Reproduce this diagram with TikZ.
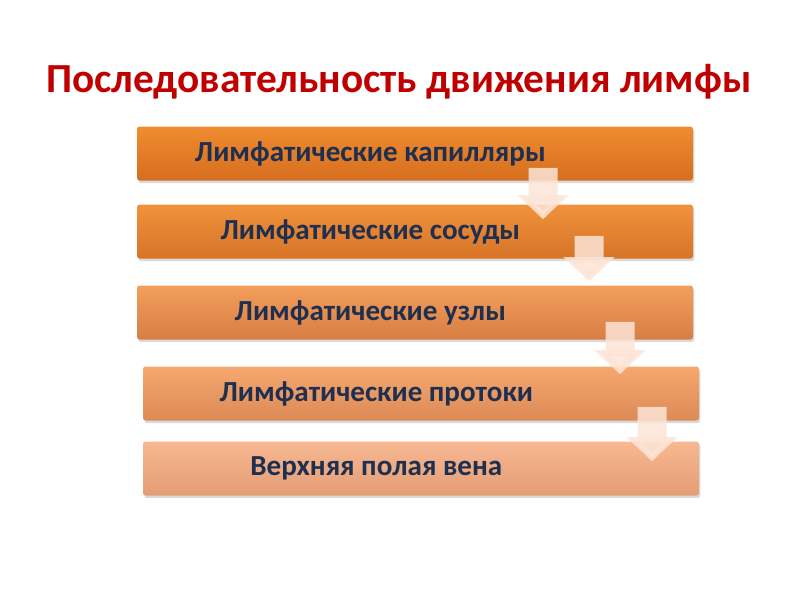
\documentclass[tikz,border=0pt]{standalone}
\usepackage{fontspec}
\setmainfont{Carlito}
\usetikzlibrary{arrows.meta,shadows}

\definecolor{titlered}{HTML}{C00000}
\definecolor{bartext}{HTML}{1F2F50}
\definecolor{flowfill}{HTML}{FCE4D6}

\begin{document}
\begin{tikzpicture}[x=0.75pt,y=-0.75pt,
    bar/.style={rectangle, rounded corners=2pt, minimum width=417pt, minimum height=40.5pt,
      font=\bfseries\fontsize{21.8}{26}\selectfont, text=bartext,
      drop shadow={shadow xshift=1pt, shadow yshift=-2pt, opacity=0.3},
      execute at end node={\hspace*{67pt}}},
    flow/.style={line width=21.75pt, draw=flowfill, opacity=0.85,
      -{Triangle[length=18pt, width=37pt]}}]
        % Page of 800 x 600 px
        \useasboundingbox (0,0) rectangle (800,600);

        % Title
        \node[font=\bfseries\fontsize{31}{36}\selectfont, text=titlered] (title) at (399,82) {Последовательность движения лимфы};

        % The five bars, top to bottom
        \node[bar, top color={rgb,255:red,240;green,140;blue,48}, bottom color={rgb,255:red,213;green,110;blue,30}] (cap) at (415,153.5) {Лимфатические капилляры};
        \node[bar, top color={rgb,255:red,240;green,146;blue,60}, bottom color={rgb,255:red,215;green,116;blue,40}] (sos) at (415,231.5) {Лимфатические сосуды};
        \node[bar, top color={rgb,255:red,242;green,158;blue,92}, bottom color={rgb,255:red,216;green,126;blue,68}] (uzl) at (415,312.5) {Лимфатические узлы};
        \node[bar, top color={rgb,255:red,245;green,168;blue,110}, bottom color={rgb,255:red,220;green,138;blue,87}] (pro) at (421,393.5) {Лимфатические протоки};
        \node[bar, top color={rgb,255:red,247;green,184;blue,146}, bottom color={rgb,255:red,227;green,157;blue,116}] (ver) at (421,468.5) {Верхняя полая вена};

        % Arrows from each bar to the next one
        \begin{scope}[transparency group]
        \draw[flow] ([xshift=96pt,yshift=9.75pt]cap.south) -- ([xshift=96pt,yshift=-11.25pt]sos.north);
        \end{scope}
        \begin{scope}[transparency group]
        \draw[flow] ([xshift=130.5pt,yshift=17.25pt]sos.south) -- ([xshift=130.5pt,yshift=3pt]uzl.north);
        \end{scope}
        \begin{scope}[transparency group]
        \draw[flow] ([xshift=153.75pt,yshift=13.5pt]uzl.south) -- ([xshift=149.25pt,yshift=-6pt]pro.north);
        \end{scope}
        \begin{scope}[transparency group]
        \draw[flow] ([xshift=173.25pt,yshift=10.5pt]pro.south) -- ([xshift=173.25pt,yshift=-15pt]ver.north);
        \end{scope}
\end{tikzpicture}
\end{document}
